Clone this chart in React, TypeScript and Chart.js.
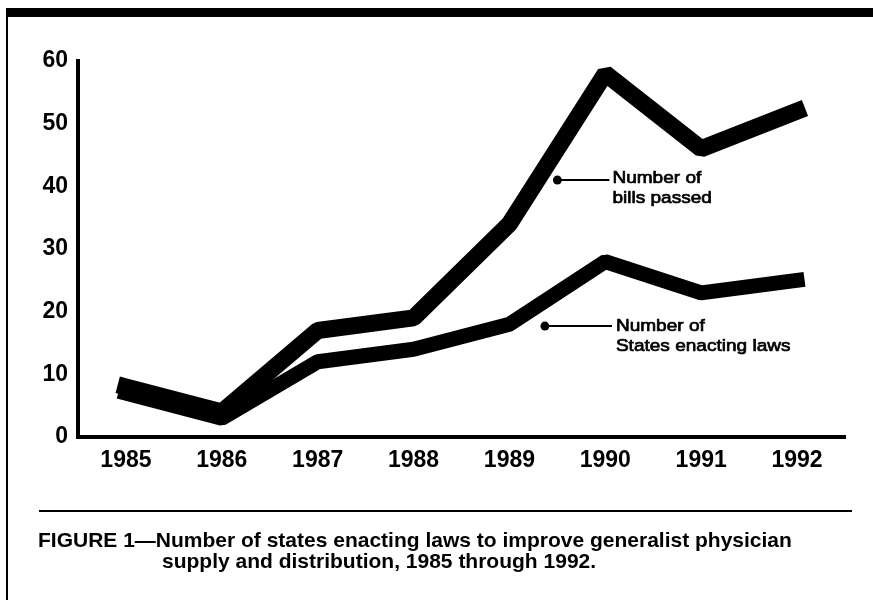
import React, { useEffect, useRef } from "react";
import { Chart, registerables } from "chart.js";

Chart.register(...registerables);

// ---- data ----
const years = ["1985", "1986", "1987", "1988", "1989", "1990", "1991", "1992"];
const billsPassed = [8, 4, 17, 19, 34, 58, 46, 52];
const statesEnacting = [7, 3, 12, 14, 18, 28, 23, 25];
const yMin = 0;
const yMax = 60;
const yStep = 10;
const billsLabel = ["Number of", "bills passed"];
const statesLabel = ["Number of", "States enacting laws"];
const captionLine1 = "FIGURE 1\u2014Number of states enacting laws to improve generalist physician";
const captionLine2 = "supply and distribution, 1985 through 1992.";

// label anchor points in data space (category index, value)
const billsNoteAt = [4.5, 41];
const statesNoteAt = [4.37, 17.7];

const FONT = '"Liberation Sans", Arial, Helvetica, sans-serif';

const notes = [
  { lines: billsLabel, at: billsNoteAt, leader: 52, gap: 3, base: 3, lineGap: 20 },
  { lines: statesLabel, at: statesNoteAt, leader: 67, gap: 4, base: 5, lineGap: 20 },
];

const notePlugin = {
  id: "notes",
  afterDatasetsDraw(chart: any) {
    const { ctx } = chart;
    const xs = chart.scales.x;
    const ys = chart.scales.y;
    ctx.save();
    ctx.fillStyle = "#000";
    ctx.strokeStyle = "#000";
    for (const n of notes) {
      const px = xs.getPixelForValue(n.at[0]);
      const py = ys.getPixelForValue(n.at[1]);
      ctx.beginPath();
      ctx.arc(px, py, 4.5, 0, Math.PI * 2);
      ctx.fill();
      ctx.lineWidth = 2;
      ctx.beginPath();
      ctx.moveTo(px, py);
      ctx.lineTo(px + n.leader, py);
      ctx.stroke();
      ctx.font = `17px ${FONT}`;
      ctx.textBaseline = "alphabetic";
      ctx.textAlign = "left";
      ctx.lineWidth = 0.7;
      ctx.lineJoin = "round";
      n.lines.forEach((t, i) => {
        ctx.save();
        ctx.translate(px + n.leader + n.gap, py + n.base + i * n.lineGap);
        ctx.scale(1.12, 1);
        ctx.fillText(t, 0, 0);
        ctx.strokeText(t, 0, 0);
        ctx.restore();
      });
    }
    ctx.restore();
  },
};

export default function App() {
  const ref = useRef<HTMLCanvasElement | null>(null);

  useEffect(() => {
    if (!ref.current) return;
    const chart = new Chart(ref.current, {
      type: "line",
      data: {
        labels: years,
        datasets: [
          {
            label: "Number of bills passed",
            data: billsPassed,
            borderColor: "#000",
            backgroundColor: "#000",
            borderWidth: 17,
            borderCapStyle: "square",
            borderJoinStyle: "bevel",
            pointRadius: 0,
            tension: 0,
            fill: false,
          },
          {
            label: "Number of States enacting laws",
            data: statesEnacting,
            borderColor: "#000",
            backgroundColor: "#000",
            borderWidth: 15,
            borderCapStyle: "square",
            borderJoinStyle: "bevel",
            pointRadius: 0,
            tension: 0,
            fill: false,
          },
        ],
      },
      options: {
        animation: false,
        responsive: false,
        devicePixelRatio: 1,
        layout: { padding: { top: 61, left: 0, right: 28, bottom: 123 } },
        plugins: {
          legend: { display: false },
          tooltip: { enabled: false },
          title: { display: false },
        },
        scales: {
          x: {
            type: "category",
            offset: true,
            grid: { display: false, drawTicks: false },
            border: { display: true, color: "#000", width: 4 },
            ticks: {
              color: "#000",
              padding: 10,
              maxRotation: 0,
              autoSkip: false,
              font: { family: FONT, size: 23, weight: "bold" },
            },
            afterFit(scale: any) {
              scale.height = 40;
              scale.paddingLeft = 0;
              scale.paddingRight = 0;
            },
          },
          y: {
            min: yMin,
            max: yMax,
            grid: { display: false, drawTicks: false },
            border: { display: true, color: "#000", width: 4 },
            ticks: {
              stepSize: yStep,
              color: "#000",
              padding: 10,
              font: { family: FONT, size: 23, weight: "bold" },
            },
            afterFit(scale: any) {
              scale.width = 78;
              scale.paddingTop = 0;
              scale.paddingBottom = 0;
            },
          },
        },
      },
      plugins: [notePlugin],
    } as any);
    return () => chart.destroy();
  }, []);

  return (
    <div
      style={{
        position: "absolute",
        left: 0,
        top: 0,
        width: 873,
        height: 600,
        background: "#fff",
        overflow: "hidden",
      }}
    >
      <canvas
        ref={ref}
        width={873}
        height={600}
        style={{ position: "absolute", left: 0, top: 0, width: 873, height: 600, display: "block" }}
      />
      <div style={{ position: "absolute", left: 6, top: 8, width: 867, height: 9, background: "#000" }} />
      <div style={{ position: "absolute", left: 6, top: 8, width: 2, height: 592, background: "#000" }} />
      <div style={{ position: "absolute", left: 39, top: 510, width: 813, height: 2, background: "#000" }} />
      <div
        style={{
          position: "absolute",
          left: 38,
          top: 529,
          fontFamily: FONT,
          fontWeight: "bold",
          fontSize: 21,
          lineHeight: "21px",
          color: "#000",
          whiteSpace: "nowrap",
        }}
      >
        <div>{captionLine1}</div>
        <div style={{ marginLeft: 124 }}>{captionLine2}</div>
      </div>
    </div>
  );
}
